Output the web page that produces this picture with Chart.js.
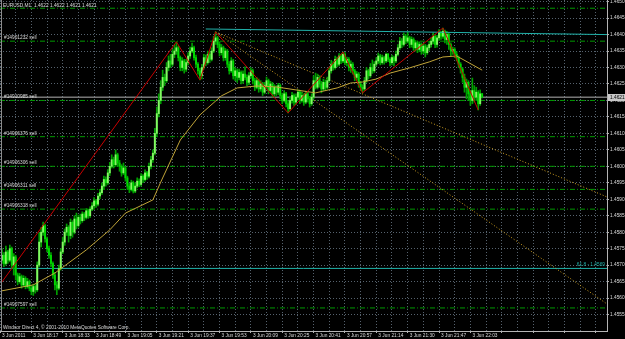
<!DOCTYPE html>
<html>
<head>
<meta charset="utf-8">
<script src="https://cdn.jsdelivr.net/npm/chart.js@4.4.1/dist/chart.umd.min.js"></script>
<style>
  html, body { margin: 0; padding: 0; background: #000; }
  #wrap { width: 625px; height: 339px; }
</style>
</head>
<body>
<div id="wrap"><canvas id="chart" width="625" height="339"></canvas></div>
<script>
// EURUSD M1, one bar per minute, bar 0 = 18:02
const timeLabels = ['3 Jun 2011', '3 Jun 18:17', '3 Jun 18:33', '3 Jun 18:49', '3 Jun 19:05', '3 Jun 19:21',
    '3 Jun 19:37', '3 Jun 19:53', '3 Jun 20:09', '3 Jun 20:25', '3 Jun 20:41', '3 Jun 20:57',
    '3 Jun 21:14', '3 Jun 21:30', '3 Jun 21:47', '3 Jun 22:03'];
const priceTicks = [1.4555, 1.4560, 1.4565, 1.4570, 1.4575, 1.4580, 1.4585, 1.4590, 1.4595, 1.4600,
    1.4605, 1.4610, 1.4615, 1.4620, 1.4625, 1.4630, 1.4635, 1.4640, 1.4645, 1.4650];

const opens = [
    1.45715,1.45730,1.45705,1.45740,1.45715,1.45750,1.45700,1.45725,1.45670,1.45650,
    1.45665,1.45640,1.45660,1.45635,1.45650,1.45630,1.45620,1.45635,1.45625,1.45700,
    1.45770,1.45800,1.45820,1.45780,1.45750,1.45730,1.45705,1.45670,1.45640,1.45630,
    1.45690,1.45740,1.45770,1.45800,1.45815,1.45790,1.45830,1.45800,1.45840,1.45820,
    1.45845,1.45835,1.45855,1.45845,1.45865,1.45850,1.45870,1.45880,1.45895,1.45885,
    1.45910,1.45920,1.45940,1.45960,1.45950,1.45980,1.46000,1.46020,1.46005,1.46035,
    1.46010,1.46000,1.45980,1.45995,1.45965,1.45940,1.45930,1.45950,1.45925,1.45940,
    1.45955,1.45945,1.45970,1.45960,1.45980,1.45970,1.46000,1.46020,1.46040,1.46100,
    1.46160,1.46200,1.46240,1.46270,1.46260,1.46300,1.46320,1.46310,1.46340,1.46350,
    1.46360,1.46330,1.46300,1.46320,1.46295,1.46315,1.46335,1.46350,1.46360,1.46330,
    1.46310,1.46290,1.46275,1.46300,1.46330,1.46315,1.46340,1.46325,1.46350,1.46380,
    1.46390,1.46370,1.46345,1.46360,1.46330,1.46350,1.46310,1.46290,1.46320,1.46275,
    1.46290,1.46270,1.46285,1.46260,1.46280,1.46270,1.46255,1.46275,1.46290,1.46260,
    1.46240,1.46260,1.46235,1.46250,1.46225,1.46245,1.46260,1.46230,1.46250,1.46220,
    1.46240,1.46225,1.46245,1.46215,1.46200,1.46220,1.46190,1.46175,1.46200,1.46215,
    1.46195,1.46210,1.46225,1.46200,1.46215,1.46195,1.46220,1.46205,1.46190,1.46210,
    1.46260,1.46240,1.46270,1.46250,1.46235,1.46255,1.46240,1.46260,1.46290,1.46310,
    1.46300,1.46325,1.46310,1.46335,1.46320,1.46340,1.46315,1.46325,1.46300,1.46310,
    1.46290,1.46270,1.46280,1.46250,1.46240,1.46235,1.46260,1.46290,1.46275,1.46300,
    1.46290,1.46310,1.46320,1.46335,1.46315,1.46330,1.46320,1.46340,1.46325,1.46315,
    1.46330,1.46320,1.46340,1.46360,1.46380,1.46370,1.46395,1.46380,1.46390,1.46370,
    1.46385,1.46360,1.46375,1.46355,1.46370,1.46350,1.46365,1.46345,1.46360,1.46370,
    1.46380,1.46395,1.46370,1.46390,1.46405,1.46395,1.46410,1.46385,1.46400,1.46370,
    1.46350,1.46355,1.46340,1.46330,1.46310,1.46295,1.46270,1.46240,1.46255,1.46220,
    1.46200,1.46230,1.46210,1.46225,1.46190,1.46220];
const highs = [
    1.45750,1.45738,1.45758,1.45745,1.45761,1.45755,1.45735,1.45730,1.45676,1.45675,
    1.45670,1.45668,1.45665,1.45660,1.45655,1.45638,1.45642,1.45640,1.45710,1.45798,
    1.45815,1.45831,1.45825,1.45785,1.45758,1.45738,1.45710,1.45678,1.45650,1.45700,
    1.45750,1.45785,1.45810,1.45825,1.45820,1.45840,1.45835,1.45850,1.45858,1.45852,
    1.45855,1.45862,1.45860,1.45872,1.45870,1.45877,1.45890,1.45905,1.45900,1.45918,
    1.45930,1.45950,1.45970,1.45968,1.45990,1.46012,1.46035,1.46028,1.46050,1.46040,
    1.46018,1.46005,1.46010,1.46000,1.45970,1.45948,1.45958,1.45955,1.45950,1.45965,
    1.45962,1.45978,1.45975,1.45989,1.45985,1.46010,1.46030,1.46050,1.46115,1.46180,
    1.46220,1.46260,1.46292,1.46280,1.46315,1.46335,1.46340,1.46355,1.46368,1.46378,
    1.46365,1.46335,1.46330,1.46325,1.46325,1.46345,1.46362,1.46374,1.46365,1.46338,
    1.46315,1.46298,1.46310,1.46340,1.46338,1.46350,1.46348,1.46360,1.46395,1.46408,
    1.46395,1.46378,1.46370,1.46365,1.46358,1.46355,1.46318,1.46330,1.46325,1.46300,
    1.46296,1.46295,1.46290,1.46290,1.46302,1.46278,1.46285,1.46300,1.46295,1.46268,
    1.46270,1.46265,1.46260,1.46255,1.46255,1.46271,1.46265,1.46258,1.46255,1.46248,
    1.46245,1.46252,1.46250,1.46222,1.46230,1.46225,1.46198,1.46210,1.46225,1.46220,
    1.46220,1.46232,1.46230,1.46225,1.46220,1.46228,1.46225,1.46212,1.46220,1.46275,
    1.46283,1.46280,1.46275,1.46258,1.46265,1.46262,1.46271,1.46300,1.46322,1.46318,
    1.46335,1.46332,1.46342,1.46340,1.46347,1.46345,1.46332,1.46330,1.46320,1.46315,
    1.46295,1.46288,1.46285,1.46258,1.46248,1.46270,1.46300,1.46295,1.46312,1.46323,
    1.46318,1.46330,1.46344,1.46340,1.46338,1.46335,1.46344,1.46343,1.46330,1.46338,
    1.46335,1.46350,1.46370,1.46392,1.46388,1.46405,1.46400,1.46408,1.46395,1.46393,
    1.46390,1.46382,1.46380,1.46378,1.46375,1.46372,1.46370,1.46368,1.46380,1.46390,
    1.46405,1.46400,1.46398,1.46415,1.46410,1.46420,1.46414,1.46410,1.46405,1.46375,
    1.46362,1.46360,1.46348,1.46335,1.46315,1.46300,1.46280,1.46265,1.46260,1.46230,
    1.46268,1.46245,1.46240,1.46230,1.46232,1.46222];
const lows = [
    1.45705,1.45695,1.45700,1.45705,1.45710,1.45690,1.45670,1.45655,1.45640,1.45645,
    1.45630,1.45635,1.45628,1.45630,1.45622,1.45610,1.45608,1.45615,1.45620,1.45695,
    1.45755,1.45790,1.45770,1.45740,1.45720,1.45695,1.45660,1.45625,1.45610,1.45625,
    1.45685,1.45735,1.45760,1.45790,1.45770,1.45780,1.45785,1.45795,1.45810,1.45815,
    1.45825,1.45830,1.45835,1.45840,1.45842,1.45845,1.45865,1.45872,1.45875,1.45880,
    1.45902,1.45915,1.45932,1.45940,1.45945,1.45972,1.45995,1.45995,1.46000,1.46000,
    1.45985,1.45970,1.45975,1.45955,1.45930,1.45920,1.45925,1.45919,1.45920,1.45935,
    1.45938,1.45940,1.45950,1.45955,1.45960,1.45965,1.45992,1.46012,1.46035,1.46090,
    1.46150,1.46190,1.46230,1.46245,1.46255,1.46290,1.46300,1.46305,1.46330,1.46340,
    1.46320,1.46290,1.46290,1.46283,1.46288,1.46308,1.46328,1.46345,1.46322,1.46300,
    1.46280,1.46262,1.46265,1.46295,1.46305,1.46310,1.46315,1.46320,1.46345,1.46370,
    1.46360,1.46335,1.46338,1.46320,1.46322,1.46300,1.46280,1.46285,1.46265,1.46260,
    1.46255,1.46262,1.46250,1.46252,1.46262,1.46245,1.46248,1.46268,1.46250,1.46230,
    1.46235,1.46225,1.46228,1.46215,1.46220,1.46238,1.46220,1.46225,1.46210,1.46212,
    1.46215,1.46218,1.46205,1.46190,1.46195,1.46180,1.46162,1.46170,1.46192,1.46185,
    1.46188,1.46202,1.46190,1.46195,1.46185,1.46190,1.46195,1.46180,1.46185,1.46205,
    1.46235,1.46235,1.46240,1.46223,1.46230,1.46230,1.46235,1.46255,1.46283,1.46292,
    1.46295,1.46302,1.46305,1.46312,1.46315,1.46308,1.46305,1.46290,1.46285,1.46280,
    1.46260,1.46262,1.46240,1.46230,1.46223,1.46230,1.46255,1.46265,1.46270,1.46282,
    1.46285,1.46305,1.46312,1.46308,1.46310,1.46310,1.46315,1.46318,1.46305,1.46308,
    1.46305,1.46315,1.46335,1.46355,1.46360,1.46365,1.46372,1.46375,1.46360,1.46362,
    1.46352,1.46350,1.46345,1.46348,1.46340,1.46342,1.46332,1.46340,1.46352,1.46362,
    1.46372,1.46360,1.46362,1.46382,1.46385,1.46388,1.46375,1.46370,1.46355,1.46335,
    1.46340,1.46330,1.46320,1.46300,1.46283,1.46255,1.46225,1.46205,1.46200,1.46185,
    1.46190,1.46195,1.46200,1.46171,1.46185,1.46208];
const closes = [
    1.45730,1.45705,1.45740,1.45715,1.45750,1.45700,1.45725,1.45670,1.45650,1.45665,
    1.45640,1.45660,1.45635,1.45650,1.45630,1.45620,1.45635,1.45625,1.45700,1.45770,
    1.45800,1.45820,1.45780,1.45750,1.45730,1.45705,1.45670,1.45640,1.45630,1.45690,
    1.45740,1.45770,1.45800,1.45815,1.45790,1.45830,1.45800,1.45840,1.45820,1.45845,
    1.45835,1.45855,1.45845,1.45865,1.45850,1.45870,1.45880,1.45895,1.45885,1.45910,
    1.45920,1.45940,1.45960,1.45950,1.45980,1.46000,1.46020,1.46005,1.46035,1.46010,
    1.46000,1.45980,1.45995,1.45965,1.45940,1.45930,1.45950,1.45925,1.45940,1.45955,
    1.45945,1.45970,1.45960,1.45980,1.45970,1.46000,1.46020,1.46040,1.46100,1.46160,
    1.46200,1.46240,1.46270,1.46260,1.46300,1.46320,1.46310,1.46340,1.46350,1.46360,
    1.46330,1.46300,1.46320,1.46295,1.46315,1.46335,1.46350,1.46360,1.46330,1.46310,
    1.46290,1.46275,1.46300,1.46330,1.46315,1.46340,1.46325,1.46350,1.46380,1.46390,
    1.46370,1.46345,1.46360,1.46330,1.46350,1.46310,1.46290,1.46320,1.46275,1.46290,
    1.46270,1.46285,1.46260,1.46280,1.46270,1.46255,1.46275,1.46290,1.46260,1.46240,
    1.46260,1.46235,1.46250,1.46225,1.46245,1.46260,1.46230,1.46250,1.46220,1.46240,
    1.46225,1.46245,1.46215,1.46200,1.46220,1.46190,1.46175,1.46200,1.46215,1.46195,
    1.46210,1.46225,1.46200,1.46215,1.46195,1.46220,1.46205,1.46190,1.46210,1.46260,
    1.46240,1.46270,1.46250,1.46235,1.46255,1.46240,1.46260,1.46290,1.46310,1.46300,
    1.46325,1.46310,1.46335,1.46320,1.46340,1.46315,1.46325,1.46300,1.46310,1.46290,
    1.46270,1.46280,1.46250,1.46240,1.46235,1.46260,1.46290,1.46275,1.46300,1.46290,
    1.46310,1.46320,1.46335,1.46315,1.46330,1.46320,1.46340,1.46325,1.46315,1.46330,
    1.46320,1.46340,1.46360,1.46380,1.46370,1.46395,1.46380,1.46390,1.46370,1.46385,
    1.46360,1.46375,1.46355,1.46370,1.46350,1.46365,1.46345,1.46360,1.46370,1.46380,
    1.46395,1.46370,1.46390,1.46405,1.46395,1.46410,1.46385,1.46400,1.46370,1.46350,
    1.46355,1.46340,1.46330,1.46310,1.46295,1.46270,1.46240,1.46255,1.46220,1.46200,
    1.46230,1.46210,1.46225,1.46190,1.46220,1.46210];

// moving average, read at a few bars
const maBars = [0, 16, 27, 43, 55, 63, 77, 81, 91, 101, 112, 120, 130, 140, 150, 160, 171, 178, 184, 191, 198, 208, 218, 225, 232, 245];
const maValues = [1.45622, 1.45640, 1.45676, 1.45746, 1.45807, 1.45858, 1.45898, 1.45952, 1.46080, 1.46156,
    1.46214, 1.46238, 1.46244, 1.46241, 1.46232, 1.46223, 1.46238, 1.46253, 1.46256, 1.46265,
    1.46283, 1.46299, 1.46317, 1.46332, 1.46335, 1.46292];

// zigzag turning points
const zigzagBars = [0, 89, 101, 109, 146, 174, 184, 225, 243];
const zigzagValues = [1.45649, 1.46378, 1.46262, 1.46408, 1.46162, 1.46347, 1.46223, 1.46420, 1.46171];

// objects on the chart
const orderLabels = ['', '#14901232 sell', '#14910985 sell', '#14906376 sell', '#14906306 sell', '#14906311 sell', '#14906318 sell', '#14907597 sell'];
const orderPrices = [1.4648, 1.4638, 1.4620, 1.4609, 1.4600, 1.4593, 1.4587, 1.4557];
const bidPrice = 1.4621;
const fibLevel = 1.4569;
const fibLabel = '61.8 - 1.4569';
const trendBars = [104, 308.7];
const trendValues = [1.46417, 1.46400];
const fanBars = [109, 308.7];
const fanAValues = [1.46408, 1.45907];
const fanBValues = [1.46408, 1.45582];
const headerText = 'EURUSD,M1  1.4622 1.4622 1.4621 1.4621';
const footerText = 'Windsor Direct 4, \u00a9 2001-2010 MetaQuotes Software Corp.';

const X_MIN = -1, X_MAX = 308.7;
const Y_MIN = 1.4550, Y_MAX = 1.46505;
const FONT = "'Liberation Sans Narrow', 'Liberation Sans', Arial, sans-serif";
const FONT_SIZE = 4.8;
const GRID = '#56626e';
const AXIS = '#b4b4b4';
const TEXT = '#dcdcdc';

Chart.defaults.font.family = FONT;
Chart.defaults.font.size = FONT_SIZE;

function pts(xs, ys) {
    return xs.map((x, i) => ({x: x, y: ys[i]}));
}

function hline(price, color, dash, order) {
    return {
        type: 'line',
        data: [{x: X_MIN, y: price}, {x: X_MAX, y: price}],
        borderColor: color,
        borderWidth: 1,
        borderDash: dash,
        pointRadius: 0,
        order: order
    };
}

const overlayText = {
    id: 'overlayText',
    afterDraw(chart) {
        const {ctx, chartArea} = chart;
        const y = chart.scales.y;
        ctx.save();
        // left frame edge
        ctx.strokeStyle = '#8c8c8c';
        ctx.lineWidth = 1;
        ctx.beginPath();
        ctx.moveTo(1.5, 0);
        ctx.lineTo(1.5, chartArea.bottom);
        ctx.stroke();

        ctx.font = `${FONT_SIZE}px ${FONT}`;
        ctx.fillStyle = TEXT;
        ctx.textAlign = 'left';
        ctx.textBaseline = 'alphabetic';
        ctx.fillText(headerText, 3, 7);
        ctx.fillText(footerText, 3, chartArea.bottom - 2);

        orderLabels.forEach((t, i) => {
            if (t) ctx.fillText(t, 4, y.getPixelForValue(orderPrices[i]) - 2);
        });

        ctx.fillStyle = '#20b2aa';
        ctx.textAlign = 'right';
        ctx.fillText(fibLabel, chartArea.right - 2, y.getPixelForValue(fibLevel) - 2);

        // bid price box on the axis
        const by = y.getPixelForValue(bidPrice);
        ctx.fillStyle = '#c8c8c8';
        ctx.fillRect(chartArea.right + 1, Math.round(by) - 3, 18, 7);
        ctx.fillStyle = '#000';
        ctx.textAlign = 'left';
        ctx.textBaseline = 'middle';
        ctx.fillText(bidPrice.toFixed(4), chartArea.right + 3, by + 0.5);
        ctx.restore();
    }
};

const ctx = document.getElementById('chart');

new Chart(ctx, {
    type: 'bar',
    data: {
        datasets: [
            {
                type: 'line',
                data: pts(zigzagBars, zigzagValues),
                borderColor: '#c80000',
                borderWidth: 1,
                pointRadius: 0,
                order: 1
            },
            {
                type: 'line',
                data: pts(trendBars, trendValues),
                borderColor: '#20b2aa',
                borderWidth: 1,
                pointRadius: 0,
                order: 2
            },
            {
                type: 'line',
                data: pts(maBars, maValues),
                borderColor: '#c0a438',
                borderWidth: 1,
                pointRadius: 0,
                order: 3
            },
            {
                data: opens.map((o, i) => ({x: i, y: [o, closes[i]]})),
                backgroundColor: opens.map((o, i) => closes[i] >= o ? '#84f864' : '#00d800'),
                barThickness: 1.3,
                minBarLength: 1,
                grouped: false,
                order: 4
            },
            {
                data: highs.map((h, i) => ({x: i, y: [lows[i], h]})),
                backgroundColor: '#00a000',
                barThickness: 1,
                grouped: false,
                order: 5
            },
            {
                type: 'line',
                data: pts(fanBars, fanAValues),
                borderColor: '#d0a020',
                borderWidth: 1,
                borderDash: [1, 2],
                pointRadius: 0,
                order: 6
            },
            {
                type: 'line',
                data: pts(fanBars, fanBValues),
                borderColor: '#d0a020',
                borderWidth: 1,
                borderDash: [1, 2],
                pointRadius: 0,
                order: 6
            },
            hline(bidPrice, '#b4b4b4', [], 7),
            hline(fibLevel, '#20b2aa', [], 7),
            ...orderPrices.map(p => hline(p, '#009a00', [5, 2, 1, 2], 8))
        ]
    },
    options: {
        responsive: false,
        animation: false,
        devicePixelRatio: 1,
        events: [],
        layout: {padding: 0, autoPadding: false},
        plugins: {
            legend: {display: false},
            tooltip: {enabled: false}
        },
        scales: {
            x: {
                type: 'linear',
                min: X_MIN,
                max: X_MAX,
                offset: false,
                grid: {
                    color: GRID,
                    offset: false,
                    tickLength: 2,
                    tickColor: c => c.index % 2 === 0 ? AXIS : 'rgba(0,0,0,0)',
                    tickBorderDash: []
                },
                border: {display: true, color: AXIS, dash: [1, 2]},
                ticks: {
                    autoSkip: false,
                    maxRotation: 0,
                    minRotation: 0,
                    align: 'start',
                    labelOffset: 2,
                    padding: 0,
                    color: TEXT,
                    callback: v => (v + 1) % 16 === 0 ? (timeLabels[(v + 1) / 16] || '') : ''
                },
                afterBuildTicks: s => {
                    const t = [];
                    for (let v = X_MIN; v <= X_MAX; v += 8) t.push({value: v});
                    s.ticks = t;
                },
                afterFit: s => {
                    s.height = 8;
                    s.paddingLeft = 0;
                    s.paddingRight = 0;
                }
            },
            y: {
                type: 'linear',
                position: 'right',
                min: Y_MIN,
                max: Y_MAX,
                beginAtZero: false,
                grid: {
                    color: GRID,
                    tickLength: 2,
                    tickColor: AXIS,
                    tickBorderDash: []
                },
                border: {display: true, color: AXIS, dash: [1, 2]},
                ticks: {
                    padding: 1,
                    color: TEXT,
                    callback: v => v.toFixed(4)
                },
                afterBuildTicks: s => {
                    s.ticks = priceTicks.map(v => ({value: v}));
                },
                afterFit: s => {
                    s.width = 18;
                    s.paddingTop = 0;
                    s.paddingBottom = 0;
                }
            }
        }
    },
    plugins: [overlayText]
});
</script>
</body>
</html>
